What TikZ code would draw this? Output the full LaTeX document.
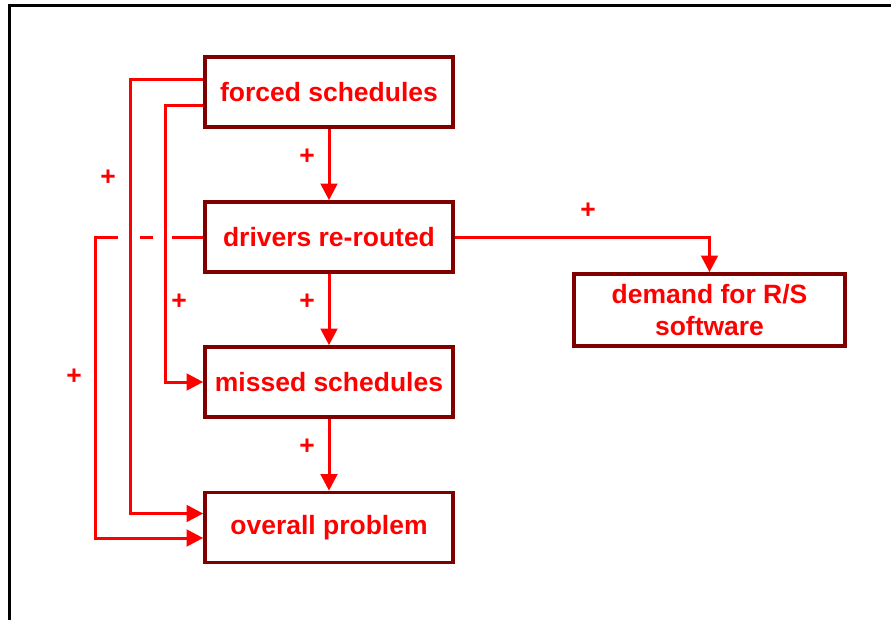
\documentclass[tikz,border=0pt]{standalone}
\usepackage{fontspec}
\setmainfont{Liberation Sans}
\usepackage{xcolor}
\usetikzlibrary{arrows.meta}
\usetikzlibrary{calc}
\definecolor{boxred}{HTML}{800000}
\definecolor{linkred}{HTML}{FF0000}
\tikzset{
  box/.style={shape=rectangle, draw=boxred, line width=1.1mm, text=linkred,
    font=\bfseries\fontsize{22.6}{28}\selectfont,
    minimum width=74.4mm, minimum height=21mm, align=center},
  link/.style={draw=linkred, line width=0.9mm, -{Triangle[length=5mm,width=5mm]}},
  plus/.style={text=linkred, font=\bfseries\fontsize{22.6}{26.4}\selectfont, inner sep=0pt}
}

\begin{document}
\begin{tikzpicture}[x=0.3mm,y=-0.3mm]
\useasboundingbox (0,0) rectangle (891,620);
\draw[line width=0.9mm] (9,620) -- (9,5) -- (891,5);
\node[box] (F) at (329,92) {forced schedules};
\node[box] (D) at (329,237) {drivers re-routed};
\node[box] (M) at (329,382) {missed schedules};
\node[box] (O) at (329,527.5) {overall problem};
\node[box, minimum width=81.3mm, minimum height=21.6mm] (R) at (709.5,310) {demand for R/S\\software};
\node[plus] (p1) at (307,157) {+};
\node[plus] (p2) at (307,302) {+};
\node[plus] (p3) at (307,447) {+};
\node[plus] (p4) at (588,211) {+};
\node[plus] (p5) at (108,178) {+};
\node[plus] (p6) at (179,302) {+};
\node[plus] (p7) at (74,377) {+};
\draw [link] (D.west) -- ++(-108,0) |- ($(O.west)+(0,10.5)$)
  [dash pattern=on 9.3mm off 5.7mm on 3.9mm off 6.6mm on 200mm off 0mm];
\draw [link] (F) -- (D);
\draw [link] (D) -- (M);
\draw [link] (M) -- (O);
\draw [link] (D.east) -| (R.north);
\draw [link] ($(F.west)+(0,-13)$) -- ++(-73,0) |- ($(O.west)+(0,-14)$);
\draw [link] ($(F.west)+(0,13)$) -- ++(-38,0) |- (M.west);
\end{tikzpicture}
\end{document}
